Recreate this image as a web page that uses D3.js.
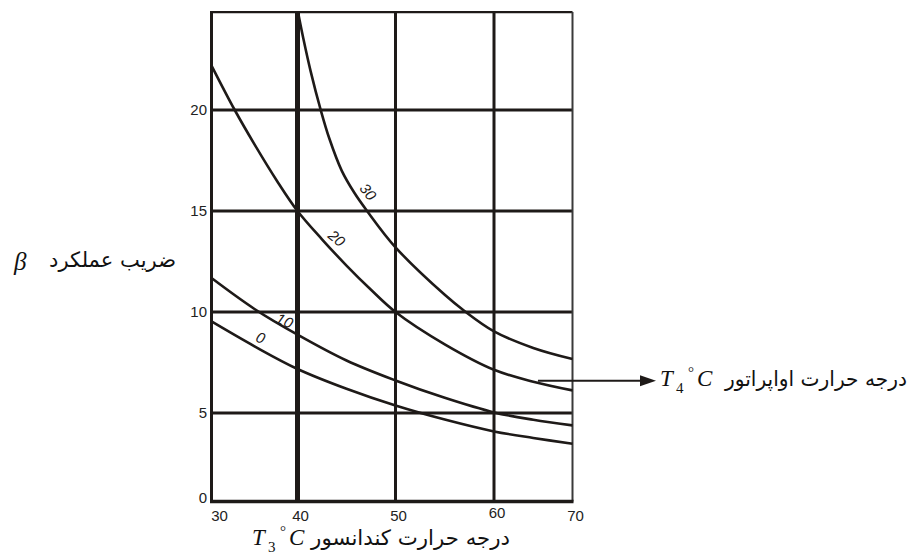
<!DOCTYPE html>
<html>
<head>
<meta charset="utf-8">
<script src="https://cdn.jsdelivr.net/npm/d3@7"></script>
<style>
  html, body { margin: 0; padding: 0; background: #ffffff; }
  svg { display: block; }
</style>
</head>
<body>
<svg id="chart" width="913" height="558"></svg>
<script>
// Coefficient of performance (beta) against condenser temperature T3,
// one curve per evaporator temperature T4.
const xTicks = [30, 40, 50, 60, 70];
const yTicks = [0, 5, 10, 15, 20];
const evapTemps = ["0", "10", "20", "30"];

const curveT4_0  = [[30, 9.53], [35, 8.3], [40, 7.18], [45, 6.2], [50, 5.37], [55, 4.63], [60, 3.96], [65, 3.59], [70, 3.26]];
const curveT4_10 = [[30, 11.68], [35, 10.15], [40, 8.88], [45, 7.6], [50, 6.61], [55, 5.75], [60, 5.03], [65, 4.62], [70, 4.3]];
const curveT4_20 = [[30, 22.2], [32.7, 20], [35, 18.3], [37.6, 16.5], [40, 15], [42.5, 13.6], [45, 12.3], [47.5, 11.1], [50, 10], [55, 8.4], [60, 7.14], [65, 6.55], [70, 6.12]];
const curveT4_30 = [[40.05, 24.85], [40.59, 23.55], [41.35, 21.9], [42.37, 20], [43.24, 18.6], [44.51, 17.0], [45.8, 15.9], [47.1, 15.0], [50, 13.2], [55, 10.85], [57, 10.05], [60, 9.04], [65, 8.22], [70, 7.67]];

// Where each curve's T4 value is written, in chart units, with its slant
const labelAnchors = [[35.7, 8.73, 22], [38.5, 9.57, 24], [44.0, 13.65, 40], [47.2, 15.95, 50]];

const series = [curveT4_0, curveT4_10, curveT4_20, curveT4_30];
const ink = "#1e1a18";

const svg = d3.select("#chart");

// The printed grid is not evenly spaced, so both scales are piecewise linear.
const x = d3.scaleLinear().domain(xTicks).range([211.5, 297.5, 395.5, 494, 572.5]);
const y = d3.scaleLinear().domain(yTicks).range([501.5, 413, 312, 211, 110]);
const yTop = y(24.85);

const g = svg.append("g");

// Horizontal grid lines
g.selectAll("line.hgrid").data(yTicks.filter(v => v > 0)).join("line")
  .attr("class", "hgrid")
  .attr("x1", x(30)).attr("x2", x(70))
  .attr("y1", d => y(d)).attr("y2", d => y(d))
  .attr("stroke", ink).attr("stroke-width", 3);

// Vertical grid lines (40 °C line is drawn heavier)
g.selectAll("line.vgrid").data(xTicks.filter(v => v > 30 && v < 70)).join("line")
  .attr("class", "vgrid")
  .attr("x1", d => x(d)).attr("x2", d => x(d))
  .attr("y1", yTop).attr("y2", y(0))
  .attr("stroke", ink).attr("stroke-width", d => d === 40 ? 5 : 3);

// Frame
g.append("line").attr("x1", x(30)).attr("x2", x(70)).attr("y1", yTop).attr("y2", yTop)
  .attr("stroke", ink).attr("stroke-width", 2.2);
g.append("line").attr("x1", x(70)).attr("x2", x(70)).attr("y1", yTop).attr("y2", y(0))
  .attr("stroke", "#3a3a3a").attr("stroke-width", 2);
g.append("line").attr("x1", x(30)).attr("x2", x(30)).attr("y1", yTop - 1).attr("y2", y(0) + 1.5)
  .attr("stroke", ink).attr("stroke-width", 3);
g.append("line").attr("x1", x(30) - 1.5).attr("x2", x(70) + 1).attr("y1", y(0)).attr("y2", y(0))
  .attr("stroke", ink).attr("stroke-width", 3.5);

// Curves
const line = d3.line().x(d => x(d[0])).y(d => y(d[1])).curve(d3.curveCatmullRom.alpha(0.5));
g.selectAll("path.cop").data(series).join("path")
  .attr("class", "cop")
  .attr("d", line)
  .attr("fill", "none")
  .attr("stroke", ink)
  .attr("stroke-width", 2.6);

// Curve labels
g.selectAll("text.t4").data(labelAnchors).join("text")
  .attr("class", "t4")
  .attr("transform", d => `translate(${x(d[0])},${y(d[1])}) rotate(${d[2]})`)
  .attr("text-anchor", "middle")
  .attr("dy", "0.35em")
  .attr("font-family", "Liberation Sans, Arial, sans-serif")
  .attr("font-style", "italic")
  .attr("font-size", 15)
  .attr("fill", ink)
  .text((d, i) => evapTemps[i]);

// Tick labels
g.selectAll("text.xt").data(xTicks).join("text")
  .attr("class", "xt")
  .attr("x", d => x(d) + (d === 30 ? 8 : 3))
  .attr("y", d => d === 60 ? 518 : 521)
  .attr("text-anchor", "middle")
  .attr("font-family", "Liberation Sans, Arial, sans-serif")
  .attr("font-size", 15)
  .attr("fill", "#222")
  .text(d => d);

g.selectAll("text.yt").data(yTicks).join("text")
  .attr("class", "yt")
  .attr("x", 207)
  .attr("y", d => y(d) + (d === 0 ? 1 : 5))
  .attr("text-anchor", "end")
  .attr("font-family", "Liberation Sans, Arial, sans-serif")
  .attr("font-size", 15)
  .attr("fill", "#222")
  .text(d => d);

const persian = "DejaVu Sans, Noto Sans, sans-serif";
const serif = "Liberation Serif, Times New Roman, serif";

// Persian words, right edge at (right, base), stretched to the given width
function persianText(words, right, base, width, size) {
  const holder = svg.append("g").attr("transform", `translate(${right},${base})`);
  const t = holder.append("text").attr("x", 0).attr("y", 0)
    .attr("text-anchor", "end")
    .attr("font-family", persian).attr("font-size", size).attr("fill", "#111")
    .text(words);
  const r = t.node().getBoundingClientRect();
  if (r.width > 0) {
    holder.attr("transform", `translate(${right},${base}) scale(${width / r.width},1)`);
  }
}

// Y-axis title
svg.append("text").attr("x", 14).attr("y", 270)
  .attr("font-family", serif).attr("font-style", "italic").attr("font-size", 25)
  .attr("fill", "#111").text("β");
persianText("ضریب عملکرد", 176, 267, 127, 21);

// Symbol T_n °C followed by a Persian caption
function caption(x0, base, sub, words, wordsRight, wordsWidth) {
  const t = svg.append("g").attr("fill", "#111");
  t.append("text").attr("x", x0).attr("y", base)
    .attr("font-family", serif).attr("font-style", "italic").attr("font-size", 23).text("T");
  t.append("text").attr("x", x0 + 16).attr("y", base + 7)
    .attr("font-family", serif).attr("font-size", 15).text(sub);
  t.append("text").attr("x", x0 + 28).attr("y", base - 9)
    .attr("font-family", serif).attr("font-size", 15).text("°");
  t.append("text").attr("x", x0 + 37).attr("y", base)
    .attr("font-family", serif).attr("font-style", "italic").attr("font-size", 23).text("C");
  persianText(words, wordsRight, base, wordsWidth, 21);
}
caption(252, 545, "3", "درجه حرارت کندانسور", 510, 200);
caption(660, 386, "4", "درجه حرارت اواپراتور", 907, 183);

// Arrow from the curves to the evaporator caption
const arrowY = y(6.6);
svg.append("line").attr("x1", x(65.6)).attr("x2", 642).attr("y1", arrowY).attr("y2", arrowY)
  .attr("stroke", ink).attr("stroke-width", 2);
svg.append("path")
  .attr("d", d3.line()([[640, arrowY - 5.5], [656, arrowY], [640, arrowY + 5.5]]) + "Z")
  .attr("fill", ink);
</script>
</body>
</html>
